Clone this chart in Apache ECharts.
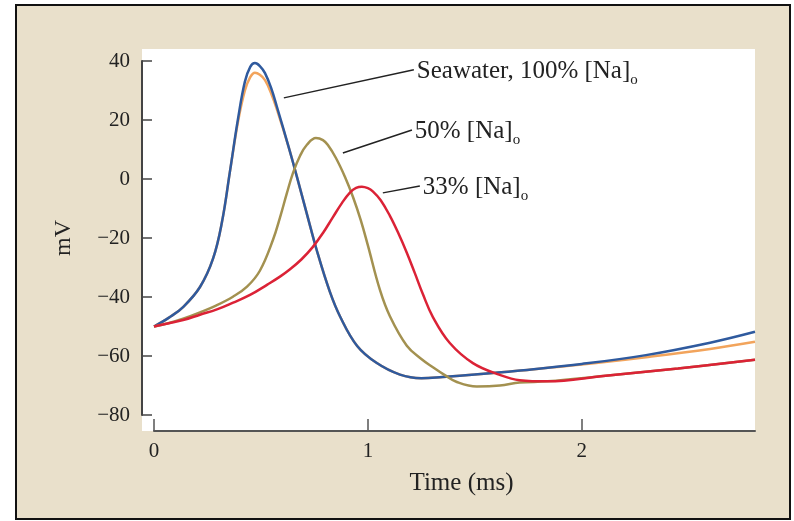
<!DOCTYPE html>
<html>
<head>
<meta charset="utf-8">
<title>Action potential vs [Na]o</title>
<script src="https://cdn.jsdelivr.net/npm/echarts@6/dist/echarts.min.js"></script>
<style>
  html, body { margin: 0; padding: 0; background: #fff; }
  #chart { width: 794px; height: 521px; }
</style>
</head>
<body>
<div id="chart"></div>
<script>
// time (ms) and membrane potential (mV)
const seaTime = [0, 0.07, 0.136, 0.215, 0.276, 0.318, 0.355, 0.393, 0.425, 0.45, 0.472, 0.495, 0.519, 0.548, 0.575, 0.63, 0.668, 0.715, 0.762, 0.822, 0.87, 0.95, 1.04, 1.15, 1.25, 1.35, 1.5, 1.7, 2.0, 2.3, 2.6, 2.81];
const seaMv = [-50, -47, -43.4, -36.6, -27, -14.5, 2.5, 20.5, 33, 38, 39.3, 38.3, 35.9, 30.8, 24.4, 10.7, 0.8, -11.9, -24.4, -38.2, -46.6, -56.6, -62.3, -66.3, -67.5, -67.1, -66.3, -65, -62.7, -59.7, -55.5, -51.8];
const seaCtrlMv = [-50, -47, -43.4, -36.6, -27, -14.5, 2.5, 19.5, 30, 34.5, 36, 35.3, 33.5, 29, 23.5, 10.7, 0.8, -11.9, -24.4, -38.2, -46.6, -56.6, -62.3, -66.3, -67.5, -67.1, -66.3, -65, -62.9, -60.4, -57.6, -55.2];

const halfTime = [0, 0.07, 0.136, 0.215, 0.29, 0.369, 0.435, 0.495, 0.556, 0.589, 0.621, 0.65, 0.683, 0.715, 0.757, 0.79, 0.813, 0.85, 0.893, 0.93, 0.967, 1.0, 1.056, 1.103, 1.182, 1.25, 1.304, 1.36, 1.416, 1.509, 1.617, 1.71, 1.84, 2.1, 2.45, 2.81];
const halfMv = [-50, -48.8, -47.35, -45.2, -42.9, -39.9, -36.5, -31.1, -20.7, -13.1, -4.9, 2.1, 7.9, 11.6, 13.9, 13.2, 11.5, 7.2, 0.7, -6, -14, -22.5, -37.5, -46.5, -56.5, -61, -63.8, -66.5, -68.8, -70.3, -70, -69, -68.6, -66.8, -64.2, -61.3];

const thirdTime = [0, 0.07, 0.136, 0.215, 0.294, 0.37, 0.449, 0.53, 0.589, 0.636, 0.69, 0.743, 0.79, 0.836, 0.88, 0.916, 0.945, 0.972, 1.0, 1.023, 1.06, 1.103, 1.14, 1.182, 1.22, 1.257, 1.304, 1.383, 1.491, 1.617, 1.71, 1.84, 2.1, 2.45, 2.81];
const thirdMv = [-50, -48.9, -47.8, -46, -44.2, -41.9, -39.3, -35.8, -33.1, -30.6, -27.2, -23, -18.3, -13, -8, -4.6, -3, -2.6, -3.1, -4.2, -7.2, -12.5, -18, -25, -32, -39, -46.8, -55.6, -62.4, -66.4, -68.2, -68.6, -66.8, -64.2, -61.3];

const xTicks = [0, 1, 2];
const labelTexts = ['Seawater, 100% [Na]{o|o}', '50% [Na]{o|o}', '33% [Na]{o|o}'];

const chart = echarts.init(document.getElementById('chart'));
const serif = '"Liberation Serif", "DejaVu Serif", serif';
const pairs = (ts, vs) => ts.map((t, i) => [t, vs[i]]);

const leaderLabel = (text) => ({
  show: true,
  position: 'end',
  distance: 3,
  offset: [0, 2],
  formatter: text,
  color: '#222',
  fontFamily: serif,
  fontSize: 25,
  lineHeight: 33,
  rich: {
    o: { fontFamily: serif, fontSize: 15, lineHeight: 17, verticalAlign: 'bottom', color: '#222' }
  }
});

const leader = (from, to, text) => ({
  silent: true,
  symbol: ['none', 'none'],
  animation: false,
  lineStyle: { color: '#222', width: 1.5, type: 'solid' },
  emphasis: { disabled: true },
  label: leaderLabel(text),
  data: [[{ coord: from }, { coord: to }]]
});

const line = (name, color, ts, vs, mark) => ({
  name: name,
  type: 'line',
  smooth: 0.4,
  symbol: 'none',
  lineStyle: { color: color, width: 2.5 },
  data: pairs(ts, vs),
  markLine: mark
});

const option = {
  animation: false,
  backgroundColor: '#fff',
  graphic: [
    { type: 'rect', z: -10, shape: { x: 16, y: 5, width: 774, height: 514 },
      style: { fill: '#E9E0CB', stroke: '#111', lineWidth: 2 } },
    { type: 'rect', z: -9, shape: { x: 142, y: 49, width: 613, height: 382 },
      style: { fill: '#fff' } }
  ],
  grid: { left: 154, right: 39, top: 61, bottom: 106 },
  xAxis: {
    type: 'value',
    min: 0,
    max: 2.81,
    offset: 16,
    name: 'Time (ms)',
    nameLocation: 'middle',
    nameGap: 40,
    nameTextStyle: { fontFamily: serif, fontSize: 25, color: '#222', padding: [0, 0, 0, 14] },
    axisLine: { show: true, onZero: false, lineStyle: { color: '#555', width: 2 } },
    axisTick: { show: true, inside: true, length: 12, customValues: xTicks, lineStyle: { color: '#555', width: 1.5 } },
    axisLabel: { customValues: xTicks, margin: 10, fontFamily: serif, fontSize: 21, color: '#222' },
    splitLine: { show: false }
  },
  yAxis: {
    type: 'value',
    min: -80,
    max: 40,
    interval: 20,
    offset: 12,
    name: 'mV',
    nameLocation: 'middle',
    nameGap: 66,
    nameTextStyle: { fontFamily: serif, fontSize: 24, color: '#222' },
    axisLine: { show: true, onZero: false, lineStyle: { color: '#444', width: 2 } },
    axisTick: { show: true, inside: true, length: 10, lineStyle: { color: '#444', width: 1.5 } },
    axisLabel: {
      margin: 12, fontFamily: serif, fontSize: 21, color: '#222',
      formatter: v => String(v).replace('-', '\u2212')
    },
    splitLine: { show: false }
  },
  series: [
    line('Seawater (control)', '#F2A45C', seaTime, seaCtrlMv),
    line('Seawater, 100% [Na]o', '#2F5A9E', seaTime, seaMv,
      leader([0.607, 27.5], [1.215, 37], labelTexts[0])),
    line('50% [Na]o', '#A39150', halfTime, halfMv,
      leader([0.883, 8.8], [1.206, 16.6], labelTexts[1])),
    line('33% [Na]o', '#DB2236', thirdTime, thirdMv,
      leader([1.07, -4.7], [1.243, -2.4], labelTexts[2]))
  ]
};

chart.setOption(option);
</script>
</body>
</html>
